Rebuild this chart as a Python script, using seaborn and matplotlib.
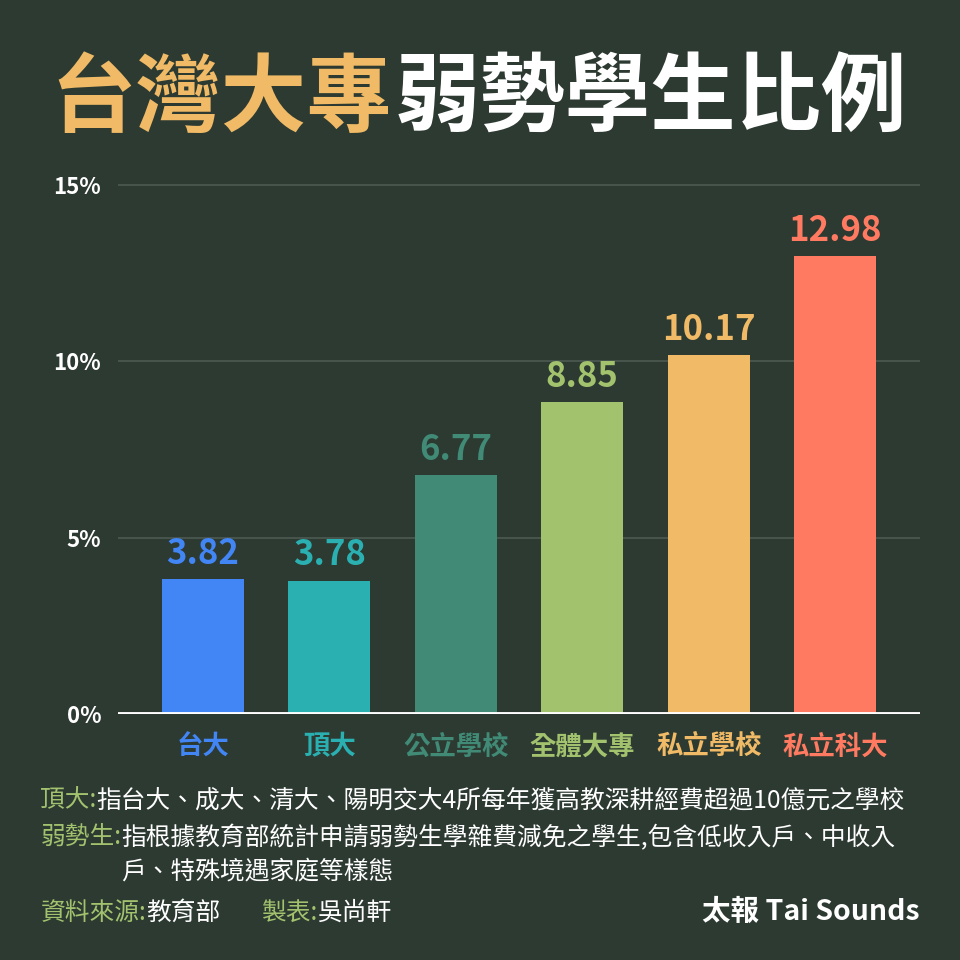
import numpy as np
import pandas as pd
import matplotlib
matplotlib.use('Agg')
import matplotlib.pyplot as plt
import seaborn as sns

# data
categories = ['台大', '頂大', '公立學校', '全體大專', '私立學校', '私立科大']
values = [3.82, 3.78, 6.77, 8.85, 10.17, 12.98]
bar_colors = ['#4285f4', '#2bb0b2', '#408a76', '#a3c26e', '#f0ba66', '#ff7a60']
yticks = [0, 5, 10, 15]
ytick_labels = ['0%', '5%', '10%', '15%']

title_gold = '台灣大專'
title_white = '弱勢學生比例'
note1_key, note1_text = '頂大:', '指台大、成大、清大、陽明交大4所每年獲高教深耕經費超過10億元之學校'
note2_key, note2_text = '弱勢生:', '指根據教育部統計申請弱勢生學雜費減免之學生,包含低收入戶、中收入'
note2_cont = '戶、特殊境遇家庭等樣態'
src_key, src_text = '資料來源:', '教育部'
maker_key, maker_text = '製表:', '吳尚軒'
brand = '太報 Tai Sounds'

BG = '#2c3a32'
GOLD = '#f0ba66'
NOTE_GREEN = '#a3c26e'
WHITE = '#ffffff'

sns.set_style('white')
plt.rcParams['font.family'] = ['Noto Sans CJK TC', 'DejaVu Sans']

df = pd.DataFrame({'cat': categories, 'val': values})

fig = plt.figure(figsize=(9.6, 9.6), dpi=100, facecolor=BG)
ax = fig.add_axes([0.1229, 0.25625, 0.8354, 0.5694])
ax.set_facecolor(BG)

sns.barplot(data=df, x='cat', y='val', hue='cat', palette=bar_colors,
            legend=False, width=0.65, saturation=1, ax=ax, zorder=3,
            edgecolor='none', linewidth=0)

ax.set_xlim(-0.67, 5.67)
ax.set_ylim(0, 15.5)

# gridlines
for t in yticks[1:]:
    ax.axhline(t, color='#4d5a52', lw=1.2, zorder=1)
ax.axhline(0, color=WHITE, lw=3.5, zorder=4)

for s in ax.spines.values():
    s.set_visible(False)

ax.set_yticks(yticks)
ax.set_yticklabels(ytick_labels, color=WHITE, fontsize=16, fontweight='bold')
ax.tick_params(axis='y', length=0, pad=12)
ax.tick_params(axis='x', length=0, pad=14)
ax.set_xticks(range(len(categories)))
ax.set_xticklabels(categories, fontsize=19, fontweight='bold')
for lab, c in zip(ax.get_xticklabels(), bar_colors):
    lab.set_color(c)
ax.set_xlabel('')
ax.set_ylabel('')

# value labels
for i, (v, c) in enumerate(zip(values, bar_colors)):
    ax.annotate(f'{v:.2f}', (i, v), xytext=(0, 6), textcoords='offset points',
                ha='center', va='bottom', color=c, fontsize=25, fontweight='bold')

# title in two colours
split_x = 0.408
fig.text(split_x, 0.896, title_gold, ha='right', va='center', color=GOLD,
         fontsize=61.5, fontweight='heavy')
fig.text(split_x + 0.003, 0.896, title_white, ha='left', va='center', color=WHITE,
         fontsize=61.5, fontweight='heavy')

# footnotes
def key_value(x, y, key, text, size=17.8):
    t = fig.text(x, y, key, ha='left', va='center', color=NOTE_GREEN, fontsize=size)
    fig.canvas.draw()
    bb = t.get_window_extent()
    x2 = bb.x1 / fig.bbox.width
    fig.text(x2, y, text, ha='left', va='center', color=WHITE, fontsize=size)
    return x2

key_value(0.042, 1 - 800 / 960, note1_key, note1_text)
x_cont = key_value(0.042, 1 - 838 / 960, note2_key, note2_text)
fig.text(x_cont, 1 - 871 / 960, note2_cont, ha='left', va='center', color=WHITE, fontsize=17.8)
key_value(0.042, 1 - 913 / 960, src_key, src_text)
key_value(0.272, 1 - 913 / 960, maker_key, maker_text)
fig.text(0.958, 1 - 912 / 960, brand, ha='right', va='center', color=WHITE,
         fontsize=20.5, fontweight='bold')

fig.savefig('out.png', dpi=100, facecolor=BG)
